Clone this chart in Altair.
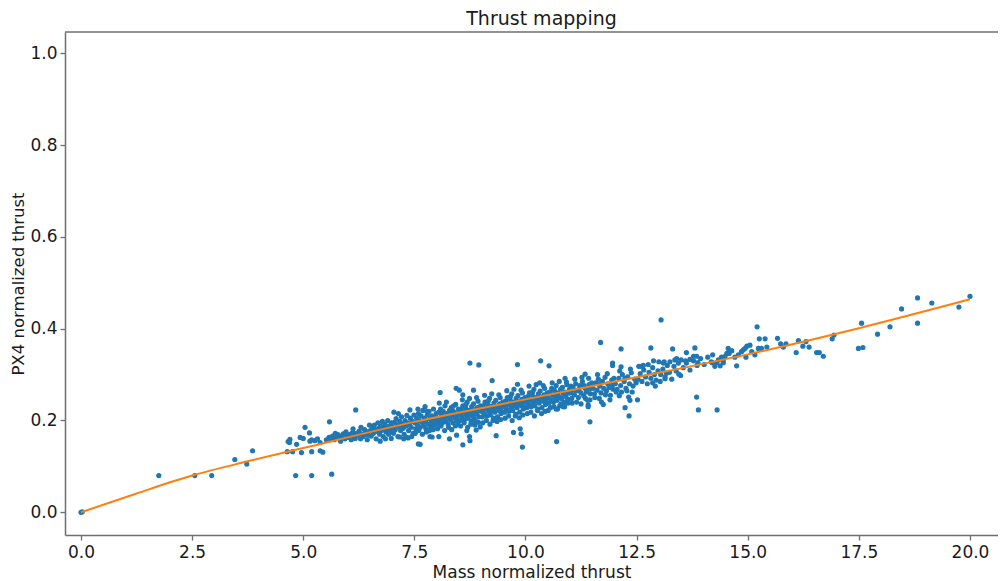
import altair as alt
import pandas as pd

# ---- data (mass normalized thrust, PX4 normalized thrust) ----
low_range = [(0.0, 0.0), (0.03, 0.001), (1.75, 0.080), (2.56, 0.080), (2.94, 0.080),
             (3.46, 0.115), (3.73, 0.105), (3.86, 0.134)]

range_4_6 = [(4.64, 0.132), (4.76, 0.132), (4.66, 0.154), (4.70, 0.159), (4.69, 0.152),
             (4.85, 0.148), (4.83, 0.080), (4.93, 0.163), (4.96, 0.130), (5.00, 0.161),
             (5.04, 0.185), (5.14, 0.173), (5.15, 0.155), (5.19, 0.158), (5.26, 0.156),
             (5.32, 0.160), (5.38, 0.152), (5.19, 0.132), (5.38, 0.134), (5.44, 0.131),
             (5.19, 0.080), (5.64, 0.083), (5.59, 0.197), (5.52, 0.158), (5.58, 0.163),
             (5.62, 0.160), (5.66, 0.166), (5.70, 0.158), (5.74, 0.164), (5.78, 0.169),
             (5.82, 0.161), (5.86, 0.166), (5.90, 0.171), (5.94, 0.160), (5.98, 0.168),
             (5.72, 0.172), (5.84, 0.155), (5.96, 0.175)]

range_6_7 = [(6.02, 0.163), (6.05, 0.170), (6.08, 0.158), (6.11, 0.174), (6.14, 0.166),
             (6.17, 0.161), (6.20, 0.172), (6.23, 0.168), (6.26, 0.177), (6.29, 0.160),
             (6.32, 0.170), (6.35, 0.165), (6.38, 0.180), (6.41, 0.172), (6.44, 0.158),
             (6.47, 0.176), (6.12, 0.182), (6.30, 0.185), (6.45, 0.168), (6.49, 0.190),
             (6.51, 0.178), (6.53, 0.166), (6.55, 0.185), (6.58, 0.172), (6.60, 0.190),
             (6.62, 0.180), (6.64, 0.160), (6.66, 0.176), (6.68, 0.195), (6.70, 0.183),
             (6.72, 0.170), (6.74, 0.188), (6.76, 0.178), (6.78, 0.198), (6.80, 0.165),
             (6.82, 0.185), (6.84, 0.192), (6.86, 0.175), (6.88, 0.182), (6.90, 0.200),
             (6.92, 0.170), (6.94, 0.188), (6.96, 0.178), (6.98, 0.195), (6.73, 0.155),
             (6.18, 0.223), (6.85, 0.160), (6.98, 0.161)]

range_7_8 = [(7.01, 0.185), (7.03, 0.172), (7.05, 0.196), (7.07, 0.180), (7.09, 0.204),
             (7.11, 0.190), (7.13, 0.165), (7.15, 0.186), (7.17, 0.198), (7.19, 0.178),
             (7.21, 0.208), (7.23, 0.192), (7.25, 0.183), (7.27, 0.170), (7.29, 0.200),
             (7.31, 0.188), (7.33, 0.211), (7.35, 0.195), (7.37, 0.178), (7.39, 0.190),
             (7.41, 0.205), (7.43, 0.185), (7.45, 0.198), (7.47, 0.172), (7.49, 0.212),
             (7.14, 0.215), (7.26, 0.160), (7.36, 0.162), (7.44, 0.165), (7.20, 0.190),
             (7.51, 0.195), (7.53, 0.182), (7.55, 0.205), (7.57, 0.190), (7.59, 0.215),
             (7.61, 0.200), (7.63, 0.185), (7.65, 0.210), (7.67, 0.196), (7.69, 0.222),
             (7.71, 0.188), (7.73, 0.205), (7.75, 0.198), (7.77, 0.175), (7.79, 0.212),
             (7.81, 0.192), (7.83, 0.220), (7.85, 0.203), (7.87, 0.185), (7.89, 0.210),
             (7.91, 0.198), (7.93, 0.225), (7.95, 0.190), (7.97, 0.208), (7.99, 0.215),
             (7.52, 0.172), (7.60, 0.178), (7.68, 0.170), (7.76, 0.182), (7.84, 0.178),
             (7.92, 0.180), (7.58, 0.225), (7.74, 0.230), (7.88, 0.195), (7.98, 0.200),
             (7.04, 0.218), (7.17, 0.164), (7.32, 0.163), (7.40, 0.223), (7.59, 0.149),
             (7.78, 0.220), (7.63, 0.148), (7.85, 0.165), (7.90, 0.164)]

range_8_9 = [(8.01, 0.205), (8.03, 0.192), (8.05, 0.218), (8.07, 0.200), (8.09, 0.225),
             (8.11, 0.210), (8.13, 0.195), (8.15, 0.220), (8.17, 0.205), (8.19, 0.232),
             (8.21, 0.198), (8.23, 0.215), (8.25, 0.208), (8.27, 0.185), (8.29, 0.222),
             (8.31, 0.202), (8.33, 0.228), (8.35, 0.212), (8.37, 0.195), (8.39, 0.218),
             (8.41, 0.206), (8.43, 0.235), (8.45, 0.200), (8.47, 0.215), (8.49, 0.225),
             (8.02, 0.182), (8.10, 0.188), (8.18, 0.178), (8.26, 0.192), (8.34, 0.180),
             (8.42, 0.188), (8.48, 0.192), (8.06, 0.238), (8.22, 0.240), (8.38, 0.232),
             (8.14, 0.205), (8.30, 0.210), (8.46, 0.208), (8.12, 0.215), (8.36, 0.222),
             (8.51, 0.212), (8.53, 0.200), (8.55, 0.225), (8.57, 0.208), (8.59, 0.232),
             (8.61, 0.218), (8.63, 0.202), (8.65, 0.228), (8.67, 0.212), (8.69, 0.240),
             (8.71, 0.205), (8.73, 0.222), (8.75, 0.215), (8.77, 0.192), (8.79, 0.230),
             (8.81, 0.210), (8.83, 0.236), (8.85, 0.220), (8.87, 0.200), (8.89, 0.225),
             (8.91, 0.214), (8.93, 0.242), (8.95, 0.208), (8.97, 0.222), (8.99, 0.232),
             (8.54, 0.188), (8.62, 0.195), (8.70, 0.185), (8.78, 0.198), (8.86, 0.190),
             (8.94, 0.196), (8.58, 0.245), (8.74, 0.248), (8.90, 0.250), (8.56, 0.218),
             (8.68, 0.220), (8.80, 0.215), (8.92, 0.228), (8.66, 0.235), (8.84, 0.205),
             (8.05, 0.165), (8.29, 0.160), (8.45, 0.168), (8.59, 0.147), (8.74, 0.165),
             (8.75, 0.156), (8.68, 0.178), (8.89, 0.179), (8.98, 0.186), (8.75, 0.325),
             (8.95, 0.321), (8.44, 0.270), (8.51, 0.266), (8.08, 0.261), (8.59, 0.256),
             (8.83, 0.266)]

range_9_10 = [(9.01, 0.220), (9.03, 0.208), (9.05, 0.232), (9.07, 0.215), (9.09, 0.240),
              (9.11, 0.225), (9.13, 0.210), (9.15, 0.236), (9.17, 0.220), (9.19, 0.248),
              (9.21, 0.212), (9.23, 0.230), (9.25, 0.222), (9.27, 0.200), (9.29, 0.238),
              (9.31, 0.218), (9.33, 0.244), (9.35, 0.228), (9.37, 0.208), (9.39, 0.232),
              (9.41, 0.222), (9.43, 0.250), (9.45, 0.215), (9.47, 0.230), (9.49, 0.240),
              (9.04, 0.195), (9.12, 0.200), (9.20, 0.192), (9.28, 0.205), (9.36, 0.198),
              (9.44, 0.202), (9.08, 0.255), (9.24, 0.258), (9.40, 0.256), (9.06, 0.225),
              (9.18, 0.230), (9.30, 0.226), (9.42, 0.236), (9.16, 0.242), (9.46, 0.220),
              (9.51, 0.230), (9.53, 0.218), (9.55, 0.242), (9.57, 0.225), (9.59, 0.250),
              (9.61, 0.235), (9.63, 0.220), (9.65, 0.246), (9.67, 0.230), (9.69, 0.258),
              (9.71, 0.222), (9.73, 0.240), (9.75, 0.232), (9.77, 0.210), (9.79, 0.248),
              (9.81, 0.228), (9.83, 0.254), (9.85, 0.238), (9.87, 0.218), (9.89, 0.242),
              (9.91, 0.232), (9.93, 0.260), (9.95, 0.225), (9.97, 0.240), (9.99, 0.250),
              (9.54, 0.205), (9.62, 0.210), (9.70, 0.200), (9.78, 0.214), (9.86, 0.206),
              (9.94, 0.212), (9.58, 0.265), (9.74, 0.268), (9.90, 0.266), (9.56, 0.236),
              (9.68, 0.240), (9.80, 0.236), (9.92, 0.246), (9.66, 0.252), (9.96, 0.230),
              (9.34, 0.167), (9.73, 0.174), (9.88, 0.182), (9.90, 0.171), (9.93, 0.142),
              (9.82, 0.322), (9.25, 0.287), (9.82, 0.279)]

range_10_11 = [(10.01, 0.240), (10.03, 0.228), (10.05, 0.252), (10.07, 0.235), (10.09, 0.260),
               (10.11, 0.245), (10.13, 0.230), (10.15, 0.256), (10.17, 0.240), (10.19, 0.268),
               (10.21, 0.232), (10.23, 0.250), (10.25, 0.242), (10.27, 0.222), (10.29, 0.258),
               (10.31, 0.238), (10.33, 0.264), (10.35, 0.248), (10.37, 0.228), (10.39, 0.252),
               (10.41, 0.242), (10.43, 0.270), (10.45, 0.235), (10.47, 0.250), (10.49, 0.260),
               (10.04, 0.215), (10.12, 0.218), (10.20, 0.210), (10.28, 0.225), (10.36, 0.215),
               (10.44, 0.220), (10.08, 0.275), (10.24, 0.278), (10.40, 0.276), (10.06, 0.246),
               (10.18, 0.250), (10.30, 0.246), (10.42, 0.256), (10.16, 0.262), (10.46, 0.240),
               (10.51, 0.250), (10.53, 0.238), (10.55, 0.262), (10.57, 0.245), (10.59, 0.270),
               (10.61, 0.255), (10.63, 0.240), (10.65, 0.266), (10.67, 0.250), (10.69, 0.276),
               (10.71, 0.244), (10.73, 0.260), (10.75, 0.252), (10.77, 0.232), (10.79, 0.268),
               (10.81, 0.248), (10.83, 0.272), (10.85, 0.258), (10.87, 0.240), (10.89, 0.262),
               (10.91, 0.252), (10.93, 0.278), (10.95, 0.246), (10.97, 0.260), (10.99, 0.268),
               (10.56, 0.228), (10.64, 0.230), (10.72, 0.225), (10.80, 0.236), (10.88, 0.230),
               (10.96, 0.238), (10.60, 0.282), (10.76, 0.285), (10.92, 0.284), (10.66, 0.258),
               (10.70, 0.154), (10.34, 0.330), (10.53, 0.319), (10.32, 0.282), (10.89, 0.292),
               (10.51, 0.222), (10.69, 0.225), (10.85, 0.230)]

range_11_12 = [(11.01, 0.260), (11.04, 0.248), (11.07, 0.272), (11.10, 0.256), (11.13, 0.280),
               (11.16, 0.265), (11.19, 0.250), (11.22, 0.276), (11.25, 0.260), (11.28, 0.285),
               (11.31, 0.254), (11.34, 0.270), (11.37, 0.262), (11.40, 0.244), (11.43, 0.278),
               (11.46, 0.258), (11.49, 0.282), (11.05, 0.238), (11.15, 0.240), (11.25, 0.236),
               (11.35, 0.248), (11.45, 0.245), (11.11, 0.290), (11.27, 0.294), (11.42, 0.292),
               (11.08, 0.266), (11.20, 0.268), (11.32, 0.276), (11.44, 0.268), (11.02, 0.275),
               (11.52, 0.270), (11.55, 0.258), (11.58, 0.282), (11.61, 0.266), (11.64, 0.290),
               (11.67, 0.275), (11.70, 0.260), (11.73, 0.285), (11.76, 0.270), (11.79, 0.294),
               (11.82, 0.264), (11.85, 0.280), (11.88, 0.272), (11.91, 0.255), (11.94, 0.288),
               (11.97, 0.268), (11.99, 0.292), (11.56, 0.250), (11.66, 0.248), (11.80, 0.256),
               (11.90, 0.245), (11.62, 0.300), (11.84, 0.302), (11.68, 0.280), (11.96, 0.278),
               (11.69, 0.370), (11.96, 0.325), (11.96, 0.320), (11.45, 0.197), (11.41, 0.234),
               (11.41, 0.230), (11.71, 0.240), (11.75, 0.235), (11.34, 0.301)]

range_12_13 = [(12.02, 0.280), (12.06, 0.268), (12.10, 0.292), (12.14, 0.276), (12.18, 0.300),
               (12.22, 0.285), (12.26, 0.270), (12.30, 0.295), (12.34, 0.280), (12.38, 0.304),
               (12.42, 0.275), (12.46, 0.290), (12.49, 0.282), (12.04, 0.262), (12.16, 0.262),
               (12.28, 0.265), (12.40, 0.262), (12.12, 0.308), (12.36, 0.312), (12.24, 0.292),
               (12.53, 0.290), (12.58, 0.302), (12.62, 0.285), (12.66, 0.310), (12.70, 0.295),
               (12.74, 0.280), (12.78, 0.305), (12.82, 0.292), (12.86, 0.315), (12.90, 0.300),
               (12.94, 0.288), (12.98, 0.308), (12.60, 0.318), (12.76, 0.322), (12.92, 0.275),
               (12.15, 0.356), (12.82, 0.358), (12.15, 0.317), (12.24, 0.228), (12.33, 0.210),
               (12.52, 0.245), (12.32, 0.251), (12.35, 0.244), (12.11, 0.254), (12.88, 0.330),
               (12.86, 0.282), (12.55, 0.318), (12.65, 0.320)]

range_13_15 = [(13.04, 0.300), (13.09, 0.312), (13.14, 0.295), (13.19, 0.320), (13.24, 0.305),
               (13.29, 0.290), (13.34, 0.318), (13.39, 0.308), (13.44, 0.325), (13.49, 0.298),
               (13.12, 0.328), (13.36, 0.332), (13.55, 0.315), (13.62, 0.325), (13.70, 0.310),
               (13.78, 0.330), (13.86, 0.320), (13.94, 0.335), (14.02, 0.322), (14.10, 0.338),
               (14.18, 0.328), (14.26, 0.318), (14.34, 0.332), (14.45, 0.326),
               (13.05, 0.419), (13.31, 0.356), (13.81, 0.358), (13.62, 0.348), (14.21, 0.343),
               (13.85, 0.251), (13.89, 0.223), (14.31, 0.223), (13.45, 0.301), (13.17, 0.303),
               (13.14, 0.291), (13.03, 0.285), (13.00, 0.328), (13.10, 0.325), (13.25, 0.328),
               (13.40, 0.335), (13.50, 0.332), (13.60, 0.330), (13.70, 0.333), (13.78, 0.340),
               (13.85, 0.340), (13.88, 0.326), (14.20, 0.326), (14.30, 0.326),
               (14.41, 0.338), (14.49, 0.340), (14.53, 0.346), (14.56, 0.357), (14.58, 0.346),
               (14.64, 0.352), (14.71, 0.338), (14.79, 0.343), (14.86, 0.350), (14.90, 0.354),
               (14.94, 0.357), (14.98, 0.362), (14.96, 0.338), (14.38, 0.319), (14.75, 0.319),
               (14.45, 0.332)]

range_15_20 = [(15.05, 0.364), (15.09, 0.350), (15.16, 0.343), (15.24, 0.357), (15.31, 0.357),
               (15.43, 0.360), (15.21, 0.404), (15.26, 0.378), (15.39, 0.378), (15.67, 0.379),
               (15.74, 0.367), (15.86, 0.367), (15.80, 0.360), (16.14, 0.374), (16.31, 0.372),
               (16.24, 0.362), (16.38, 0.360), (16.09, 0.348), (16.55, 0.348), (16.61, 0.348),
               (16.70, 0.340), (16.90, 0.378), (16.94, 0.386), (17.49, 0.357), (17.59, 0.359),
               (17.56, 0.412), (17.92, 0.388), (18.20, 0.404), (18.46, 0.443), (18.82, 0.467),
               (18.82, 0.412), (19.14, 0.456), (19.75, 0.447), (20.00, 0.4705)]

# fitted mapping curve (orange)
fit_mass = [0.0, 1.25, 2.5, 3.75, 5.0, 7.5, 10.0, 12.5, 15.0, 17.5, 20.0]
fit_px4 = [0.0, 0.041, 0.080, 0.111, 0.140, 0.197, 0.246, 0.294, 0.344, 0.401, 0.464]

x_ticks = [0.0, 2.5, 5.0, 7.5, 10.0, 12.5, 15.0, 17.5, 20.0]
y_ticks = [0.0, 0.2, 0.4, 0.6, 0.8, 1.0]

# ---- build ----
rows = (low_range + range_4_6 + range_6_7 + range_7_8 + range_8_9 + range_9_10
        + range_10_11 + range_11_12 + range_12_13 + range_13_15 + range_15_20)
samples = pd.DataFrame(rows, columns=["mass", "px4"])
fit = pd.DataFrame({"mass": fit_mass, "px4": fit_px4})

W, H = 933, 503
FONT = "DejaVu Sans"
SPINE = "#6e6e6e"
TXT = "#1a1a1a"

x_scale = alt.Scale(domain=[-0.36, 20.63], nice=False, zero=False)
y_scale = alt.Scale(domain=[-0.0495, 1.0464], nice=False, zero=False)

x_axis = alt.Axis(title="Mass normalized thrust", values=x_ticks, format=".1f", grid=False,
                  domainColor=SPINE, domainWidth=1.5, tickColor=SPINE, tickWidth=1.3,
                  tickSize=5, labelPadding=4, labelFontSize=17, titleFontSize=17,
                  labelFont=FONT, titleFont=FONT, labelColor=TXT, titleColor=TXT,
                  titleFontWeight="normal", titlePadding=4, labelFlush=False,
                  labelOverlap=False)
y_axis = alt.Axis(title="PX4 normalized thrust", values=y_ticks, format=".1f", grid=False,
                  domainColor=SPINE, domainWidth=1.5, tickColor=SPINE, tickWidth=1.3,
                  tickSize=5, labelPadding=3, labelFontSize=17, titleFontSize=16.5,
                  labelFont=FONT, titleFont=FONT, labelColor=TXT, titleColor=TXT,
                  titleFontWeight="normal", titlePadding=3, labelFlush=False,
                  labelOverlap=False)

points = alt.Chart(samples).mark_circle(size=27, opacity=1, color="#1f77b4").encode(
    x=alt.X("mass:Q", scale=x_scale, axis=x_axis),
    y=alt.Y("px4:Q", scale=y_scale, axis=y_axis),
)

line = alt.Chart(fit).mark_line(color="#ff7f0e", strokeWidth=2, interpolate="monotone").encode(
    x=alt.X("mass:Q", scale=x_scale),
    y=alt.Y("px4:Q", scale=y_scale),
)

top_spine = alt.Chart(pd.DataFrame({"k": [0]})).mark_rule(color=SPINE, strokeWidth=1.5).encode(
    x=alt.value(0), x2=alt.value(W), y=alt.value(0)
)

chart = alt.layer(points, line, top_spine).properties(
    width=W,
    height=H,
    title=alt.TitleParams("Thrust mapping", fontSize=19, font=FONT, fontWeight="normal",
                          color=TXT, offset=2, dx=10, anchor="middle"),
    autosize=alt.AutoSizeParams(type="none"),
    padding={"left": 57, "top": 24, "right": 0, "bottom": 45},
).configure_view(stroke="transparent")

chart.save("out.html", embed_options={"renderer": "svg", "actions": False})
